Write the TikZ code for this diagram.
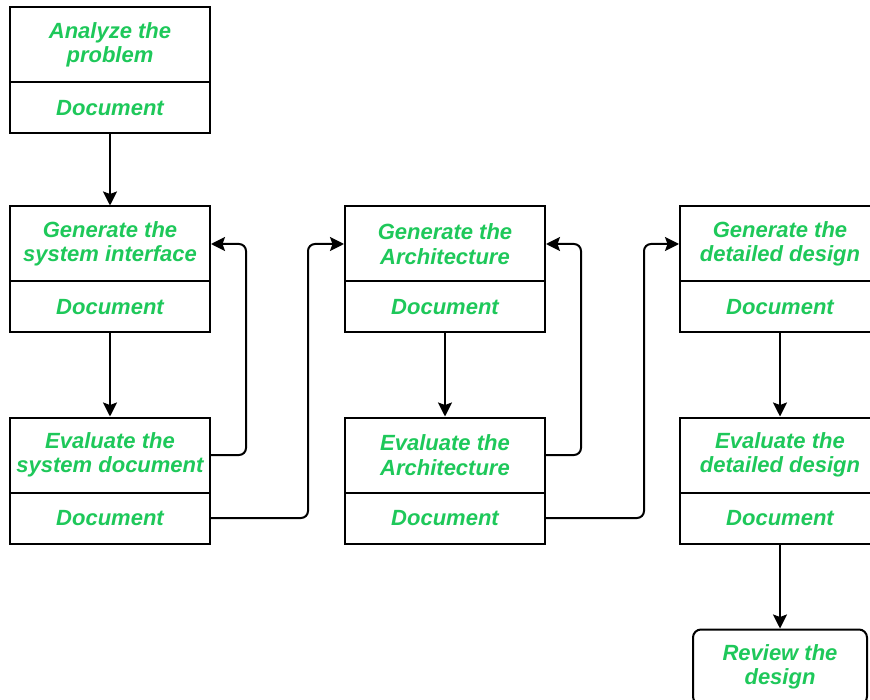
\documentclass[tikz,border=0pt]{standalone}
\usepackage{fontspec}
\setmainfont{Liberation Sans}
\usepackage{tikz}
\usetikzlibrary{arrows.meta,positioning}
\definecolor{cText}{RGB}{30,200,90}
\tikzset{
  stage/.style={draw=black, line width=2pt, minimum width=200pt, minimum height=75pt,
                align=center, inner sep=1pt, outer sep=0pt, text=cText,
                font=\fontsize{22}{24.5}\selectfont\bfseries\itshape},
  docbox/.style={stage, minimum height=51pt},
  review/.style={stage, minimum width=174pt, minimum height=75pt, rounded corners=8pt},
  arr/.style={-{Stealth[length=14pt, width=14pt, inset=2.5pt]}, line width=2pt, shorten >=1pt},
  link/.style={arr, rounded corners=7pt},
}

\begin{document}
\begin{tikzpicture}[x=1pt, y=-1pt]
  \useasboundingbox (0,0) rectangle (870,700);
  \clip (0,0) rectangle (870,700);

  % first column
  \node[stage] (a1) at (110,45) {Analyze the\\problem};
  \node[docbox, below=0pt of a1] (a1d) {Document};
  \node[stage] (g1) at (110,244) {Generate the\\system interface};
  \node[docbox, below=0pt of g1] (g1d) {Document};
  \node[stage] (e1) at (110,455) {Evaluate the\\system document};
  \node[docbox, below=0pt of e1] (e1d) {Document};

  % second column
  \node[stage] (g2) at (445,244) {Generate the\\Architecture};
  \node[docbox, below=0pt of g2] (g2d) {Document};
  \node[stage] (e2) at (445,455) {Evaluate the\\Architecture};
  \node[docbox, below=0pt of e2] (e2d) {Document};

  % third column
  \node[stage] (g3) at (780,244) {Generate the\\detailed design};
  \node[docbox, below=0pt of g3] (g3d) {Document};
  \node[stage] (e3) at (780,455) {Evaluate the\\detailed design};
  \node[docbox, below=0pt of e3] (e3d) {Document};
  \node[review] (r3) at (780,667) {Review the\\design};

  \draw[arr] (a1d.south) -- (g1.north);
  \foreach \c in {1,2,3} {\draw[arr] (g\c d.south) -- (e\c.north);}
  \draw[arr] (e3d.south) -- (r3.north);

  % feedback and hand-over
  \draw[link] (e1.east) -- ++(36,0) |- (g1.east);
  \draw[link] (e1d.east) -- ++(98,0) |- (g2.west);
  \draw[link] (e2.east) -- ++(36,0) |- (g2.east);
  \draw[link] (e2d.east) -- ++(99,0) |- (g3.west);
\end{tikzpicture}
\end{document}
